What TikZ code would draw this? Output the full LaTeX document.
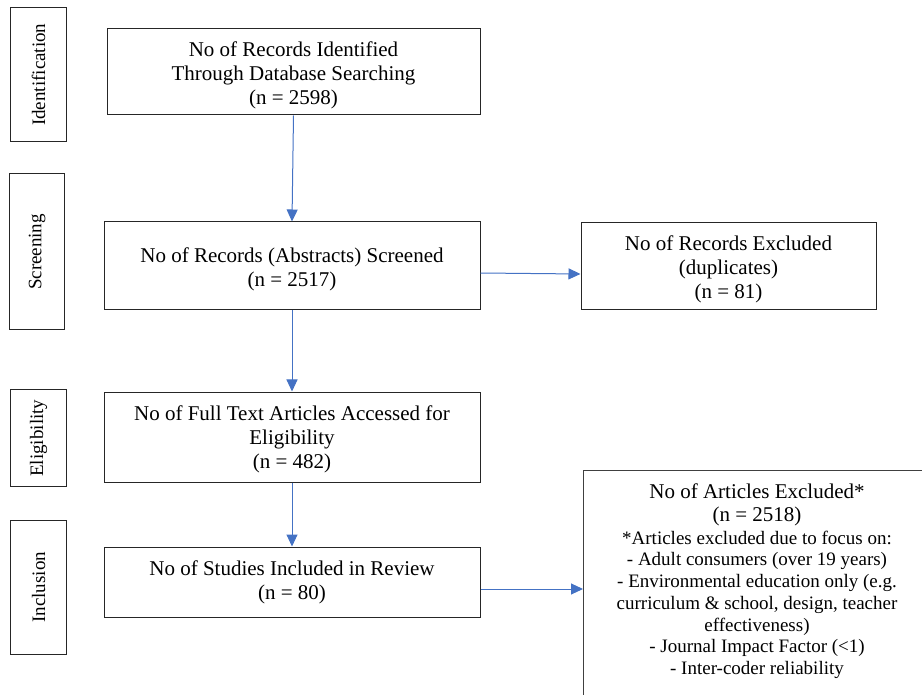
\documentclass[tikz,border=0pt]{standalone}
\usepackage{fontspec}
\setmainfont{Liberation Serif}
\usetikzlibrary{arrows.meta}
\definecolor{arrowblue}{RGB}{68,114,196}
\newcommand\firststrut[1]{\rule{0pt}{#1}}
\tikzset{
  mainbox/.style={draw=black!85, line width=1pt, inner sep=0pt, align=center,
    font=\fontsize{21}{24}\selectfont},
  sidebox/.style={draw=black!85, line width=1pt, inner sep=0pt,
    font=\fontsize{19}{22}\selectfont},
  sidelabel/.style={rotate=90, inner sep=0pt, font=\fontsize{19}{22}\selectfont},
  flow/.style={draw=arrowblue, line width=1pt, -{Triangle[length=12pt,width=11pt]}},
  notetext/.style={inner sep=0pt, align=center, font=\fontsize{19}{21.7}\selectfont}
}
\begin{document}
\begin{tikzpicture}[x=1pt,y=-1pt]
\useasboundingbox (0,0) rectangle (922,695);
% side stage boxes
\node[sidebox, minimum width=55.5pt, minimum height=134pt] (sid) at (38.5,74.7) {};
\node[sidelabel] (sidt) at (sid.center) {Identification};
\node[sidebox, minimum width=55.5pt, minimum height=156pt] (sscr) at (37.2,252) {};
\node[sidelabel] (sscrt) at (sscr.center) {Screening};
\node[sidebox, minimum width=55.5pt, minimum height=97.5pt] (sel) at (38.5,438.2) {};
\node[sidelabel] (selt) at (sel.center) {Eligibility};
\node[sidebox, minimum width=55.5pt, minimum height=134pt] (sinc) at (38.6,587.2) {};
\node[sidelabel] (sinct) at (sinc.center) {Inclusion};
% main boxes
\node[mainbox, minimum width=373pt, minimum height=86pt] (b1) at (293.5,72)
  {\firststrut{21pt}No of Records Identified\\Through Database Searching\\(n = 2598)};
\node[mainbox, minimum width=376pt, minimum height=88pt] (b2) at (292,266)
  {\firststrut{21pt}No of Records (Abstracts) Screened\\(n = 2517)};
\node[mainbox, minimum width=376pt, minimum height=90pt] (b3) at (292,437)
  {\firststrut{19pt}No of Full Text Articles Accessed for\\Eligibility\\(n = 482)};
\node[mainbox, minimum width=376pt, minimum height=70pt] (b4) at (292,582)
  {No of Studies Included in Review\\(n = 80)};
% exclusion boxes
\node[mainbox, minimum width=295pt, minimum height=87pt] (ex1) at (728.5,266.5)
  {\firststrut{20pt}No of Records Excluded\\(duplicates)\\(n = 81)};
\node[draw=black!75, line width=1pt, inner sep=0pt, minimum width=360pt, minimum height=260pt,
  anchor=north west] (ex2) at (583,470) {};
\node[notetext] (ex2t) at (757,581)
  {{\fontsize{21}{23}\selectfont No of Articles Excluded*}\\[1.3pt]
   {\fontsize{21}{23}\selectfont (n = 2518)}\\[1.3pt]
   *Articles excluded due to focus on:\\
   - Adult consumers (over 19 years)\\
   - Environmental education only (e.g.\\
   curriculum \& school, design, teacher\\
   effectiveness)\\
   - Journal Impact Factor (<1)\\
   - Inter-coder reliability};
% connectors
\draw[flow] (b1.south) -- (b2.north);
\draw[flow] (b2.south) -- (b3.north);
\draw[flow] (b3.south) -- (b4.north);
\draw[flow] ([yshift=-7pt]b2.east) -- ([yshift=-7.5pt]ex1.west);
\draw[flow] ([yshift=-7pt]b4.east) -- ([yshift=-7pt]b4.east -| ex2.west);
\end{tikzpicture}
\end{document}
